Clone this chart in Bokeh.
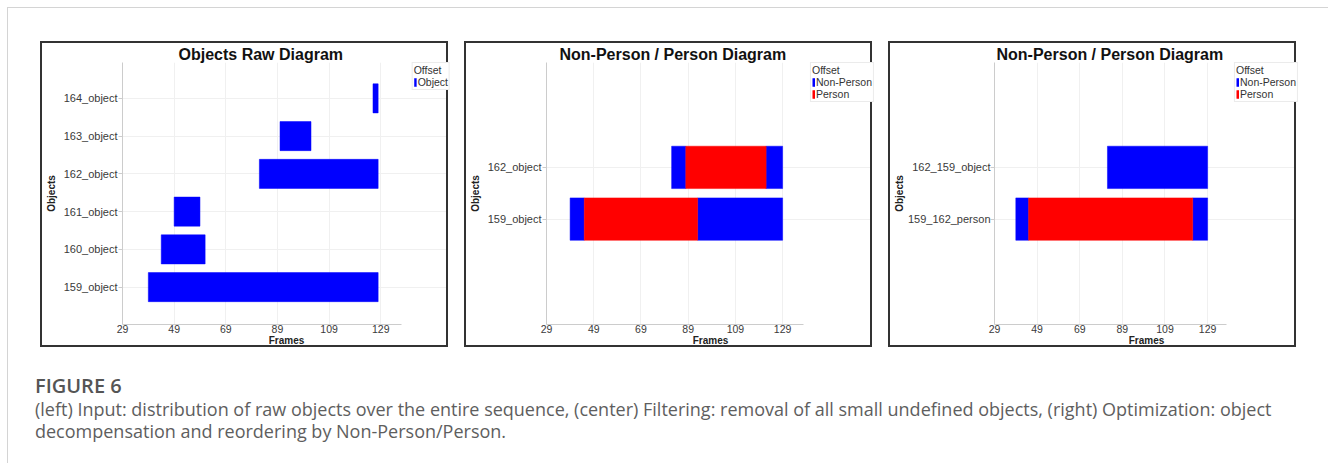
from bokeh.plotting import figure
from bokeh.models import (Range1d, FixedTicker, Legend, LegendItem,
                          ColumnDataSource, Div, Spacer)
from bokeh.layouts import row, column
from bokeh.embed import file_html
from bokeh.resources import INLINE

# ---------------- data ----------------
FRAME_TICKS = [29, 49, 69, 89, 109, 129]
COLORS = {"Object": "#0000ff", "Non-Person": "#0000ff", "Person": "#ff0000"}

raw_objects = ["159_object", "160_object", "161_object",
               "162_object", "163_object", "164_object"]
raw_row = [0, 1, 2, 3, 4, 5]
raw_start = [39, 44, 49, 82, 90, 126]
raw_end = [128, 61, 59, 128, 102, 128]
raw_class = ["Object"] * 6

filt_objects = ["159_object", "162_object"]
filt_row = [0, 0, 0, 1, 1, 1]
filt_start = [39, 45, 93, 82, 88, 122]
filt_end = [45, 93, 129, 88, 122, 129]
filt_class = ["Non-Person", "Person", "Non-Person",
              "Non-Person", "Person", "Non-Person"]

opt_objects = ["159_162_person", "162_159_object"]
opt_row = [0, 0, 0, 1]
opt_start = [39, 45, 122, 82]
opt_end = [45, 122, 129, 129]
opt_class = ["Non-Person", "Person", "Non-Person", "Non-Person"]

FONT = "Liberation Sans"
W, H = 408, 306          # outer size incl. 2px border
CW = W - 4               # canvas width inside border
TOP, BOTTOM = 19, 25


def make_panel(title, title_offset, objects, rows, starts, ends, classes,
               legend_classes, x_end, y_lo, y_hi, bar_h, left, right,
               ylab_standoff, ylabel_standoff):
    # axis area ends "right" px before the canvas edge; the frame is widened
    # to the canvas edge so the legend can sit at its top-right corner.
    axis_w = CW - left - right
    ppf = axis_w / (x_end - 29)
    x_ext = 29 + (CW - left) / ppf
    p = figure(width=W, height=H, output_backend="svg", toolbar_location=None,
               x_range=Range1d(29, x_ext), y_range=Range1d(y_lo, y_hi),
               min_border_left=left, min_border_right=0,
               min_border_top=TOP, min_border_bottom=BOTTOM,
               styles={"border": "2px solid #333333"})
    p.title.text = title
    p.title.align = "left"
    p.title.offset = title_offset
    p.title.text_font = FONT
    p.title.text_font_size = "16px"
    p.title.text_font_style = "bold"
    p.title.text_color = "#111111"
    p.title.standoff = 0
    p.outline_line_color = None

    renderers = {}
    for c in legend_classes:
        idx = [i for i, k in enumerate(classes) if k == c]
        s = ColumnDataSource(dict(y=[rows[i] for i in idx],
                                  left=[starts[i] for i in idx],
                                  right=[ends[i] for i in idx]))
        r = p.hbar(y="y", left="left", right="right", height=bar_h, source=s,
                   fill_color=COLORS[c], line_color=COLORS[c], line_width=0.5)
        renderers[c] = r

    # x axis
    p.xaxis.bounds = (29, x_end)
    p.xaxis.ticker = FixedTicker(ticks=FRAME_TICKS)
    p.xaxis.axis_label = "Frames"
    p.xaxis.axis_label_text_font = FONT
    p.xaxis.axis_label_text_font_style = "bold"
    p.xaxis.axis_label_text_font_size = "10px"
    p.xaxis.axis_label_text_color = "#222222"
    p.xaxis.axis_label_standoff = -1
    p.xaxis.major_label_text_font = FONT
    p.xaxis.major_label_text_font_size = "10.5px"
    p.xaxis.major_label_text_color = "#3a3a3a"
    p.xaxis.major_label_standoff = 0
    p.xaxis.major_tick_out = 0
    p.xaxis.major_tick_in = 0
    p.xaxis.minor_tick_line_color = None
    p.xaxis.axis_line_color = "#cccccc"

    # y axis
    p.yaxis.ticker = FixedTicker(ticks=list(range(len(objects))))
    p.yaxis.major_label_overrides = {i: o for i, o in enumerate(objects)}
    p.yaxis.axis_label = "Objects"
    p.yaxis.axis_label_text_font = FONT
    p.yaxis.axis_label_text_font_style = "bold"
    p.yaxis.axis_label_text_font_size = "10px"
    p.yaxis.axis_label_text_color = "#222222"
    p.yaxis.axis_label_standoff = ylab_standoff
    p.yaxis.major_label_text_font = FONT
    p.yaxis.major_label_text_font_size = "11px"
    p.yaxis.major_label_text_color = "#3a3a3a"
    p.yaxis.major_label_standoff = ylabel_standoff
    p.yaxis.major_tick_out = 4
    p.yaxis.major_tick_in = 0
    p.yaxis.major_tick_line_color = "#cccccc"
    p.yaxis.minor_tick_line_color = None
    p.yaxis.axis_line_color = "#cccccc"

    p.xgrid.ticker = FixedTicker(ticks=FRAME_TICKS)
    p.xgrid.grid_line_color = "#f0f0f0"
    p.ygrid.ticker = FixedTicker(ticks=list(range(len(objects))))
    p.ygrid.grid_line_color = "#f0f0f0"
    p.ygrid.bounds = (29, x_end)

    legend = Legend(items=[LegendItem(label=c, renderers=[renderers[c]])
                           for c in legend_classes],
                    title="Offset", location="top_right",
                    margin=0, padding=1, spacing=0,
                    glyph_width=3, glyph_height=10, label_height=10,
                    label_standoff=1, title_standoff=0,
                    label_text_font=FONT, label_text_font_size="10.5px",
                    label_text_color="#333333",
                    title_text_font=FONT, title_text_font_size="10.5px",
                    title_text_font_style="normal", title_text_color="#333333",
                    border_line_color="#d8d8d8", border_line_width=1,
                    background_fill_color="white", background_fill_alpha=1)
    p.add_layout(legend, "center")
    return p


p1 = make_panel("Objects Raw Diagram", 56, raw_objects, raw_row, raw_start,
                raw_end, raw_class, ["Object"], 137.2, -0.99, 5.95, 0.77,
                80, 48, 4, 1)
p2 = make_panel("Non-Person / Person Diagram", 13, filt_objects, filt_row,
                filt_start, filt_end, filt_class, ["Non-Person", "Person"],
                137.9, -2.04, 3.03, 0.82, 80, 70, 4, 1)
p3 = make_panel("Non-Person / Person Diagram", 2, opt_objects, opt_row,
                opt_start, opt_end, opt_class, ["Non-Person", "Person"],
                138.0, -2.04, 3.03, 0.82, 103, 71, 0, 0)

caption = Div(
    text=("<div style=\"font-family:'Open Sans';color:#5e5e5e;white-space:nowrap;\">"
          "<div style=\"font-size:20px;font-weight:600;line-height:24px;"
          "color:#555555;\">FIGURE 6</div>"
          "<div style=\"font-size:18px;line-height:22px;\">"
          "(left) Input: distribution of raw objects over the entire sequence, "
          "(center) Filtering: removal of all small undefined objects, "
          "(right) Optimization: object<br>"
          "decompensation and reordering by Non-Person/Person.</div></div>"),
    width=1285, height=84)

main = column(
    Spacer(height=33),
    row(Spacer(width=32), p1, Spacer(width=16), p2, Spacer(width=16), p3,
        Spacer(width=23)),
    Spacer(height=22),
    row(Spacer(width=22), caption, Spacer(width=13)),
    styles={"border-top": "1px solid #d4d4d4", "border-left": "1px solid #d4d4d4"},
)

layout = row(Spacer(width=7), column(Spacer(height=7), main))

open("out.html", "w").write(file_html(layout, INLINE))
